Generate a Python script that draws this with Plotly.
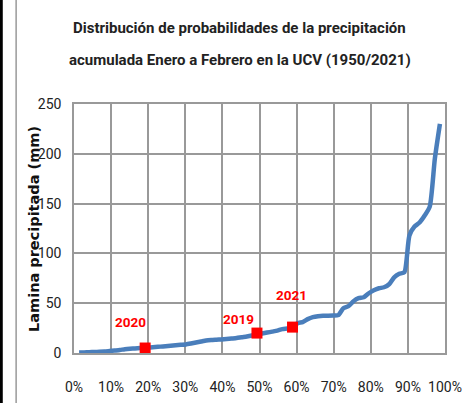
import plotly.graph_objects as go

# Sorted accumulated precipitation (mm), Jan-Feb, 72 years (1950-2021)
n_years = 72
lamina_mm = [0.5, 0.6, 0.8, 1.0, 1.2, 1.5, 2.0, 2.5, 3.0, 3.8,
             4.3, 4.6, 5.0, 5.3, 5.6, 6.0, 6.4, 6.8, 7.3, 7.8,
             8.2, 8.6, 9.5, 10.5, 11.5, 12.5, 13.0, 13.3, 13.6, 14.0,
             14.5, 15.0, 15.8, 16.5, 17.5, 18.5, 19.5, 20.5, 21.5, 22.5,
             24.0, 24.5, 25.5, 30.0, 31.0, 34.0, 36.0, 37.0, 37.5, 37.5,
             37.6, 38.0, 45.0, 47.0, 52.0, 55.0, 56.0, 60.0, 63.0, 65.0,
             66.0, 69.0, 76.0, 79.5, 81.0, 118.0, 127.0, 131.0, 138.0, 147.0,
             195.0, 230.0]
probabilidad = [m / (n_years + 1) for m in range(1, n_years + 1)]

# Highlighted years
years = ["2020", "2019", "2021"]
years_prob = [14 / 73, 36 / 73, 43 / 73]
years_mm = [5.0, 20.0, 26.0]

x_ticks = [i / 10 for i in range(11)]
y_ticks = [0, 50, 100, 150, 200, 250]

title_lines = ["Distribución de probabilidades de la precipitación",
               "acumulada Enero a Febrero en la UCV (1950/2021)"]
y_title = "Lamina precipitada (mm)"

font_main = "Roboto, Arial, sans-serif"
grid = "#999999"

fig = go.Figure()

fig.add_trace(go.Scatter(
    x=probabilidad, y=lamina_mm, mode="lines",
    line=dict(color="#4A7EBB", width=4.5, shape="spline", smoothing=0.6),
    hoverinfo="skip", showlegend=False))
fig.add_trace(go.Scatter(
    x=years_prob, y=years_mm, mode="markers",
    marker=dict(symbol="square", size=11, color="#FF0000"),
    showlegend=False))

label_shift = {"2020": (-15, 26), "2019": (-18, 14), "2021": (-1, 32)}
for yr, px, py in zip(years, years_prob, years_mm):
    xs, ys = label_shift[yr]
    fig.add_annotation(x=px, y=py, text="<b>" + yr + "</b>", showarrow=False,
                       xshift=xs, yshift=ys,
                       font=dict(family=font_main, size=13.5, color="#FF0000"))

# two-line title
for line, ypos in zip(title_lines, [1.305, 1.178]):
    fig.add_annotation(xref="paper", yref="paper", x=0.447, y=ypos,
                       xanchor="center", yanchor="middle", showarrow=False,
                       text="<b>" + line + "</b>",
                       font=dict(family=font_main, size=15, color="#222222"))

# y axis title
fig.add_annotation(xref="paper", yref="paper", x=-0.108, y=0.498,
                   xanchor="center", yanchor="middle", showarrow=False,
                   textangle=-90, text="<b>" + y_title + "</b>",
                   font=dict(family="DejaVu Sans, Verdana, sans-serif",
                             size=14.5, color="#111111"))

# page border lines on the left
fig.add_shape(type="line", xref="paper", yref="paper", x0=-0.196, x1=-0.196,
              y0=-0.25, y1=1.5, line=dict(color="black", width=3))
fig.add_shape(type="line", xref="paper", yref="paper", x0=-0.156, x1=-0.156,
              y0=-0.25, y1=1.5, line=dict(color=grid, width=1.5))

fig.update_layout(
    width=466, height=403,
    margin=dict(l=74, r=21, t=104, b=50),
    paper_bgcolor="white", plot_bgcolor="white",
)
fig.update_xaxes(
    range=[0, 1], tickvals=x_ticks, tickformat=".0%",
    showgrid=True, gridcolor=grid, gridwidth=1.5,
    showline=True, linecolor=grid, linewidth=1.5, mirror=True,
    zeroline=False, layer="below traces",
    ticks="outside", ticklen=20, tickcolor="rgba(0,0,0,0)",
    automargin=False,
    tickfont=dict(family=font_main, size=14, color="#222222"))
fig.update_yaxes(
    range=[0, 250], tickvals=y_ticks,
    showgrid=True, gridcolor=grid, gridwidth=1.5,
    showline=True, linecolor=grid, linewidth=1.5, mirror=True,
    zeroline=False, layer="below traces",
    ticks="outside", ticklen=8, tickcolor="rgba(0,0,0,0)",
    automargin=False,
    tickfont=dict(family=font_main, size=14, color="#222222"))

fig.write_html("out.html", config={"displayModeBar": False},
               post_script="document.body.style.margin='0';")
